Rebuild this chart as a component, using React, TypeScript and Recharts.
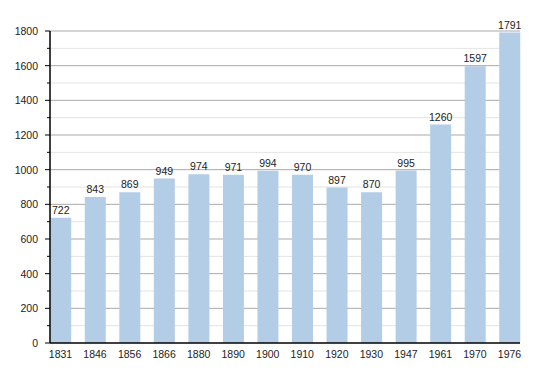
import React from 'react';
import { BarChart, Bar, XAxis, YAxis, CartesianGrid, LabelList } from 'recharts';

const years = ['1831', '1846', '1856', '1866', '1880', '1890', '1900', '1910', '1920', '1930', '1947', '1961', '1970', '1976'];
const population = [722, 843, 869, 949, 974, 971, 994, 970, 897, 870, 995, 1260, 1597, 1791];
const yTicks = [0, 100, 200, 300, 400, 500, 600, 700, 800, 900, 1000, 1100, 1200, 1300, 1400, 1500, 1600, 1700, 1800];
const majorValues = [200, 400, 600, 800, 1000, 1200, 1400, 1600, 1800];
const minorValues = [100, 300, 500, 700, 900, 1100, 1300, 1500, 1700];

const data = years.map((y, i) => ({ year: y, pop: population[i] }));

const FONT = 'Liberation Sans, Arial, sans-serif';

const YTick = (props: any) => {
  const { x, y, payload } = props;
  const v = payload.value as number;
  const major = v % 200 === 0;
  const axisX = x + 4;
  return (
    <g>
      <line x1={axisX - (major ? 5 : 3)} y1={y} x2={axisX} y2={y} stroke="#000" strokeWidth={1} />
      {major && (
        <text x={axisX - 12} y={y} dy={4} textAnchor="end" fontSize={10.5} fill="#222" fontFamily={FONT}>
          {v}
        </text>
      )}
    </g>
  );
};

export default function App() {
  return (
    <div style={{ position: 'absolute', left: 0, top: 0, background: '#fff' }}>
      <BarChart width={550} height={373} data={data} margin={{ top: 31, right: 30, bottom: 0, left: 0 }}>
        <CartesianGrid vertical={false} horizontalValues={minorValues} stroke="#e3e3e3" />
        <CartesianGrid vertical={false} horizontalValues={majorValues} stroke="#a9a9a9" />
        <XAxis
          dataKey="year"
          height={30}
          padding={{ left: -6.77, right: -6.77 }}
          axisLine={{ stroke: '#000', strokeWidth: 1.5 }}
          tickLine={false}
          tick={{ fontSize: 10.5, fill: '#222', fontFamily: FONT }}
          tickMargin={2}
          interval={0}
        />
        <YAxis
          width={50}
          domain={[0, 1800]}
          ticks={yTicks}
          interval={0}
          axisLine={{ stroke: '#000', strokeWidth: 1.5 }}
          tickLine={false}
          tickSize={0}
          tickMargin={4}
          tick={<YTick />}
        />
        <Bar dataKey="pop" fill="#b3cde6" barSize={21} isAnimationActive={false}>
          <LabelList dataKey="pop" position="top" offset={4} fontSize={10.5} fill="#222" fontFamily={FONT} />
        </Bar>
      </BarChart>
    </div>
  );
}
